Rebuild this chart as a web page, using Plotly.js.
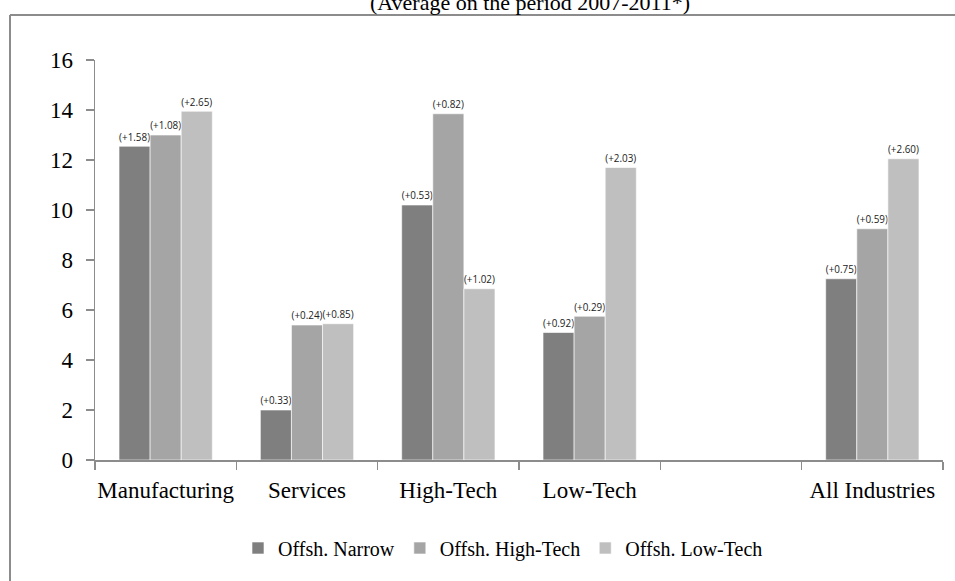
<!DOCTYPE html>
<html>
<head>
<meta charset="utf-8">
<script src="https://cdn.plot.ly/plotly-3.0.1.min.js"></script>
<style>html,body{margin:0;padding:0;background:#fff;}#chart{width:955px;height:581px;}</style>
</head>
<body>
<div id="chart"></div>
<script>
const categories = ["Manufacturing", "Services", "High-Tech", "Low-Tech", " ", "All Industries"];
const seriesNames = ["Offsh. Narrow", "Offsh. High-Tech", "Offsh. Low-Tech"];
const narrowValues = [12.55, 2.0, 10.2, 5.1, null, 7.25];
const highTechValues = [13.0, 5.4, 13.85, 5.75, null, 9.25];
const lowTechValues = [13.95, 5.45, 6.85, 11.7, null, 12.05];
const narrowLabels = ["(+1.58)", "(+0.33)", "(+0.53)", "(+0.92)", "", "(+0.75)"];
const highTechLabels = ["(+1.08)", "(+0.24)", "(+0.82)", "(+0.29)", "", "(+0.59)"];
const lowTechLabels = ["(+2.65)", "(+0.85)", "(+1.02)", "(+2.03)", "", "(+2.60)"];
const titleText = "(Average on the period 2007-2011*)";

const colors = ["#7f7f7f", "#a5a5a5", "#bfbfbf"];
const values = [narrowValues, highTechValues, lowTechValues];
const labels = [narrowLabels, highTechLabels, lowTechLabels];

const traces = values.map((v, i) => ({
  type: "bar",
  name: seriesNames[i],
  x: categories,
  y: v,
  text: labels[i],
  textposition: "outside",
  cliponaxis: false,
  textfont: {family: "Open Sans, sans-serif", size: 11, color: "#222"},
  marker: {color: colors[i], line: {color: "#ffffff", width: 0.6}},
  hoverinfo: "skip"
}));

const serif = "Liberation Serif, Times New Roman, serif";
const W = 848, H = 400, L = 95, T = 60;
const px = x => (x - L) / W;
const py = y => (T + H - y) / H;

const layout = {
  width: 955, height: 581,
  margin: {l: L, r: 955 - L - W, t: T, b: 581 - T - H, pad: 0},
  paper_bgcolor: "#ffffff",
  plot_bgcolor: "#ffffff",
  barmode: "group",
  bargap: 0.34,
  bargroupgap: 0,
  showlegend: true,
  legend: {
    orientation: "h",
    x: px(503), xanchor: "center",
    y: py(548), yanchor: "middle",
    font: {family: serif, size: 20, color: "#000"},
    itemwidth: 30,
    traceorder: "normal"
  },
  xaxis: {
    type: "category",
    categoryorder: "array",
    categoryarray: categories,
    tickangle: 0,
    automargin: false,
    showline: true, linecolor: "#8c8c8c", linewidth: 1.5,
    ticks: "outside", tickson: "boundaries", ticklen: 8, tickcolor: "#8c8c8c", tickwidth: 1.5,
    tickfont: {family: serif, size: 23, color: "#000"},
    ticklabelstandoff: 9,
    showgrid: false, zeroline: false
  },
  yaxis: {
    range: [0, 16],
    dtick: 2,
    automargin: false,
    showline: true, linecolor: "#8c8c8c", linewidth: 1.5,
    ticks: "outside", ticklen: 8, tickcolor: "#8c8c8c", tickwidth: 1.5,
    tickfont: {family: serif, size: 23, color: "#000"},
    ticklabelstandoff: 8,
    showgrid: false, zeroline: false
  },
  shapes: [
    {type: "line", xref: "paper", yref: "paper", x0: px(10), x1: px(10), y0: py(15), y1: py(585), line: {color: "#8c8c8c", width: 2}},
    {type: "line", xref: "paper", yref: "paper", x0: px(10), x1: px(960), y0: py(15), y1: py(15), line: {color: "#8c8c8c", width: 2}}
  ],
  annotations: [
    {text: titleText, xref: "paper", yref: "paper", x: px(530), y: py(2.5), xanchor: "center", yanchor: "middle", showarrow: false, font: {family: serif, size: 22, color: "#000"}}
  ]
};

Plotly.newPlot("chart", traces, layout, {displayModeBar: false, staticPlot: true});
</script>
</body>
</html>
